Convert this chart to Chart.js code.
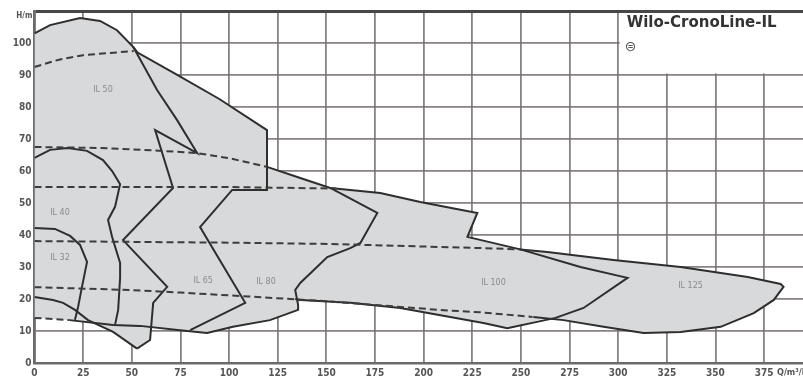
<!DOCTYPE html>
<html><head><meta charset="utf-8">
<script src="https://cdn.jsdelivr.net/npm/chart.js@4/dist/chart.umd.min.js"></script>
<style>html,body{margin:0;padding:0;background:#fff}#wrap{width:803px;height:380px;position:relative}</style>
</head><body><div id="wrap"><canvas id="c"></canvas></div>
<script>
// ---- axis ticks ----
const xTicks = [0,25,50,75,100,125,150,175,200,225,250,275,300,325,350,375];
const yTicks = [0,10,20,30,40,50,60,70,80,90,100,110];
const xTitle = 'Q/m³/h';
const yTitle = 'H/m';
const titleText = 'Wilo-CronoLine-IL';
const titleSymbol = '⊜';

// ---- shaded operating area (Q m³/h, H m) ----
const shadedArea = [[0,103],[8,105.6],[23.4,107.8],[33.7,106.9],[42.4,104],[50.7,98.8],[53,97],[72,90.5],[95,82.5],[119.5,72.8],[119.5,61.3],[136.6,57.8],[152,54.7],[177.7,53.1],[198.3,50.3],[227.6,46.9],[222.5,39.4],[249.7,35.5],[263.6,34.7],[297.6,32.2],[332.1,30],[366.6,26.9],[383.5,24.7],[385,23.8],[380,19.7],[369.7,15.6],[352.7,11.3],[332.1,9.7],[313.1,9.4],[292.5,11.3],[271.9,13.4],[262,13.8],[243,10.9],[230.7,12.5],[213.7,14.4],[188,17.2],[162.3,18.8],[136.6,19.7],[135.5,18.1],[135.5,16.6],[121,13.4],[102,11.3],[88.7,9.4],[74.8,10.2],[59.7,11.3],[59.4,7.2],[52.7,4.5],[40.4,9.7],[30,12.6],[15,13.5],[0,14.1]];

// ---- solid range outlines ----
const outlineIL50 = [[0,103],[8,105.6],[23.4,107.8],[33.7,106.9],[42.4,104],[50.7,98.8],[53,97],[72,90.5],[95,82.5],[119.5,72.8],[119.5,54.1],[101.6,54.1],[85.1,42.5],[108.3,18.8],[80,10.3]];
const outlineIL65 = [[50.7,98.8],[63,85.3],[73.3,75.9],[83.6,65.6],[62,72.8],[71.2,54.7],[45.5,38.4],[68.2,23.8],[61,18.8],[59.4,7.2],[52.7,4.5]];
const outlineLower = [[0,20.6],[9.5,19.7],[14.7,18.8],[20.8,16.6],[27.5,13.4],[40.4,9.7],[52.7,4.5]];
const outlineIL80 = [[152,54.7],[176.2,46.9],[167.5,37.5],[162.3,35.9],[150.5,33.1],[136.6,25],[134,22.8],[135.5,18.1],[135.5,16.6],[121,13.4],[102,11.3],[88.7,9.4],[74.8,10.2],[54.3,11.6],[40.4,11.9],[18,13.4]];
const outlineIL100 = [[119.5,61.3],[136.6,57.8],[152,54.7],[177.7,53.1],[198.3,50.3],[227.6,46.9],[222.5,39.4],[249.7,35.5],[280.6,30],[304.8,26.6],[282.2,17.2],[267.8,14.1],[243,10.9],[230.7,12.5],[213.7,14.4],[188,17.2],[162.3,18.8],[136.6,19.7],[134,20]];
const outlineIL125 = [[249.7,35.5],[263.6,34.7],[297.6,32.2],[332.1,30],[366.6,26.9],[383.5,24.7],[385,23.8],[380,19.7],[369.7,15.6],[352.7,11.3],[332.1,9.7],[313.1,9.4],[292.5,11.3],[271.9,13.4],[256.4,14.4]];
const outlineIL40 = [[0,64.1],[8,66.6],[17,67.2],[27,66.3],[35.2,63.4],[39.9,60],[44,55.9],[41.4,48.8],[37.8,44.7],[39.9,39.4],[44,31.3],[44,26.6],[43,16.6],[41.4,11.9]];
const outlineIL32 = [[0,42.2],[10.5,41.9],[18.3,39.7],[23.4,36.9],[27,31.6],[24.4,23.8],[22.4,17.5],[20.8,13.5]];

// ---- dashed curves ----
const dash1 = [[0,92.5],[12,94.7],[25,96.2],[39,96.9],[51,97.5]];
const dash2 = [[0,67.5],[33,67.2],[60,66.5],[83.6,65.6],[100,64],[119.5,61.3]];
const dash3 = [[0,55],[100,55],[155,54.5]];
const dash4 = [[0,38.1],[100,37.6],[152,37.2],[200,36.4],[230,35.9],[249.7,35.5]];
const dash5 = [[0,23.7],[50,22.8],[75,22],[110,20.8],[150,19.3],[208,16.6],[230,15.8],[256,14.4]];
const dash6 = [[0,14.1],[18,13.4]];

// ---- region labels ----
const regionNames = ['IL 50','IL 40','IL 32','IL 65','IL 80','IL 100','IL 125'];
const regionQ = [35.2,13.1,13.1,86.7,119,235.9,337.2];
const regionH = [85.3,46.9,32.8,25.6,25.3,25,24];

const pts = a => a.map(p => ({x:p[0], y:p[1]}));
const solid = a => ({data:pts(a), borderColor:'#2e2e2e', borderWidth:2, pointRadius:0, tension:0, fill:false, order:1});
const dashed = a => ({data:pts(a), borderColor:'#3c3c3c', borderWidth:2, borderDash:[7,4], pointRadius:0, tension:0, fill:false, order:0});

const gridCol = 'rgba(115,108,108,0.85)';
const tickFont = {family:'"DejaVu Sans Condensed","DejaVu Sans",sans-serif', weight:'bold', size:10};

const overlay = {
  id:'overlay',
  beforeDatasetsDraw(chart){
    const {ctx, scales:{x,y}, chartArea:a} = chart;
    const x0 = x.getPixelForValue(300)+1.5, y1 = y.getPixelForValue(90)-1.5;
    ctx.save();
    ctx.fillStyle = '#fff';
    ctx.fillRect(x0, a.top+2, a.right-x0, y1-a.top-2);
    ctx.fillStyle = '#333';
    ctx.textBaseline = 'middle';
    ctx.font = 'bold 15px "DejaVu Sans",sans-serif';
    ctx.fillText(titleText, x0+7, y.getPixelForValue(106.2));
    ctx.font = '14px "DejaVu Sans",sans-serif';
    ctx.fillStyle = '#555';
    ctx.fillText(titleSymbol, x0+5, y.getPixelForValue(98.6));
    ctx.restore();
  },
  afterDatasetsDraw(chart){
    const {ctx, scales:{x,y}} = chart;
    ctx.save();
    ctx.fillStyle = '#8a8a8a';
    ctx.font = '8px "DejaVu Sans",sans-serif';
    ctx.textAlign = 'center'; ctx.textBaseline = 'middle';
    regionNames.forEach((n,i)=>ctx.fillText(n, x.getPixelForValue(regionQ[i]), y.getPixelForValue(regionH[i])));
    ctx.restore();
  },
  afterDraw(chart){
    const {ctx, chartArea:a} = chart;
    ctx.save();
    ctx.fillStyle = '#555';
    ctx.font = 'bold 8px "DejaVu Sans Condensed","DejaVu Sans",sans-serif';
    ctx.textBaseline = 'middle';
    ctx.textAlign = 'right';
    ctx.fillText(yTitle, a.left-2, a.top+5);
    ctx.textAlign = 'left';
    ctx.font = 'bold 9px "DejaVu Sans Condensed","DejaVu Sans",sans-serif';
    ctx.fillText(xTitle, 777, a.bottom+10);
    ctx.restore();
  }
};

new Chart(document.getElementById('c'), {
  type:'line',
  data:{datasets:[
    dashed(dash1), dashed(dash2), dashed(dash3), dashed(dash4), dashed(dash5), dashed(dash6),
    solid(outlineIL50), solid(outlineIL65), solid(outlineLower), solid(outlineIL80),
    solid(outlineIL100), solid(outlineIL125), solid(outlineIL40), solid(outlineIL32),
    {data:pts(shadedArea), borderWidth:0, borderColor:'rgba(0,0,0,0)', backgroundColor:'#d8d9db', fill:'shape', pointRadius:0, tension:0, order:10}
  ]},
  options:{
    responsive:true, maintainAspectRatio:false, animation:false, events:[],
    layout:{padding:{top:11,left:0,right:0,bottom:0}},
    plugins:{legend:{display:false}, tooltip:{enabled:false}},
    scales:{
      x:{type:'linear', min:0, max:395,
        afterBuildTicks(s){ s.ticks = xTicks.map(v=>({value:v})); },
        afterFit(s){ s.height = 17; },
        grid:{color:gridCol, lineWidth:1.8, drawTicks:false},
        border:{color:'#6a6a6a', width:2.5},
        ticks:{padding:4, font:tickFont, color:'#555', maxRotation:0, autoSkip:false}
      },
      y:{type:'linear', min:0, max:110,
        afterBuildTicks(s){ s.ticks = yTicks.map(v=>({value:v})); },
        afterFit(s){ s.width = 34.5; },
        grid:{color:c=>c.tick && c.tick.value===110?'#474747':gridCol, lineWidth:c=>c.tick && c.tick.value===110?3:1.8, drawTicks:false},
        border:{color:'#6a6a6a', width:2.5},
        ticks:{padding:3, font:tickFont, color:'#555', autoSkip:false, callback:v=> v===110?'':String(v)}
      }
    }
  },
  plugins:[overlay]
});
</script>
</body></html>
